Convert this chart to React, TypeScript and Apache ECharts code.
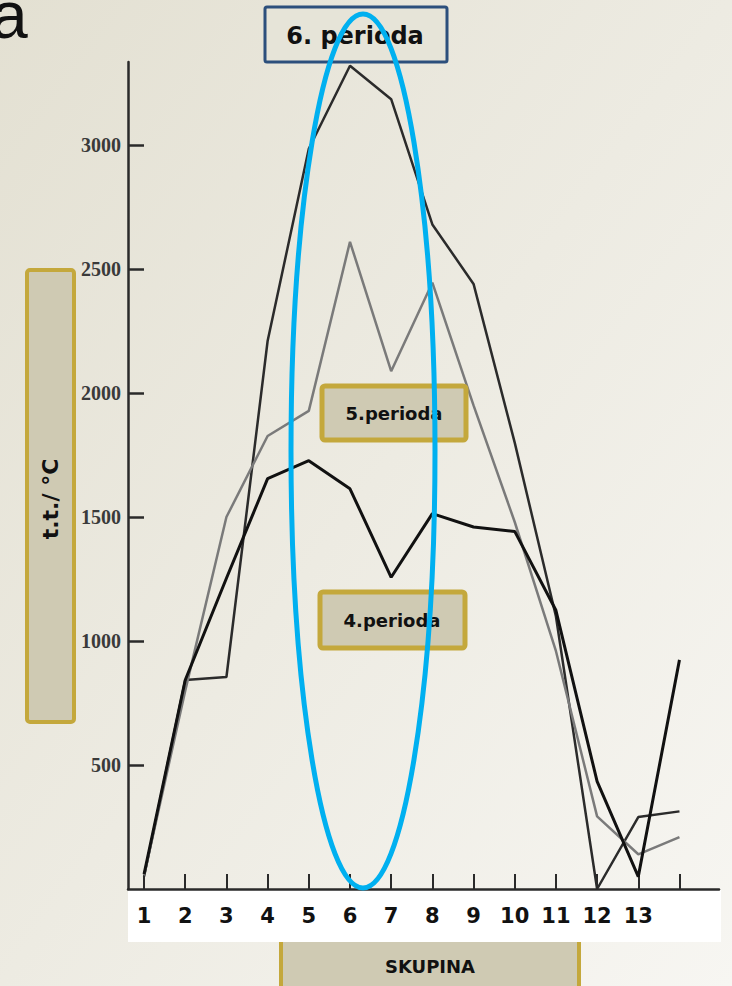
import React, { useEffect, useRef } from "react";
import * as echarts from "echarts";

// Group positions along the x axis (one per element column in the plot)
const groupPositions = [1, 2, 3, 4, 5, 6, 7, 8, 9, 10, 11, 12, 13, 14];
// Tick labels written under the axis
const groupLabels = ["1", "2", "3", "4", "5", "6", "7", "8", "9", "10", "11", "12", "13"];
// Melting points (t.t. / °C)
const period4 = [60, 843, 1253, 1655, 1727, 1614, 1257, 1514, 1460, 1442, 1124, 434, 50, 924];
const period5 = [55, 800, 1500, 1827, 1928, 2610, 2088, 2445, 1950, 1480, 960, 293, 140, 209];
const period6 = [50, 843, 855, 2210, 2985, 3320, 3185, 2680, 2440, 1800, 1100, 0, 290, 313];
// Value-axis ticks
const yTickValues = [500, 1000, 1500, 2000, 2500, 3000];
const seriesNames = ["4.perioda", "5.perioda", "6. perioda"];
const yAxisTitle = "t.t./ °C";
const xAxisTitle = "SKUPINA";

const boxFont = '"DejaVu Sans", "Noto Sans", sans-serif';

export default function App() {
  const ref = useRef<HTMLDivElement>(null);

  useEffect(() => {
    if (!ref.current) return;
    const chart = echarts.init(ref.current, undefined, { renderer: "svg" });
    const toPairs = (vals: number[]) => groupPositions.map((x, i) => [x, vals[i]]);
    const gold = "#c4a83c";
    const boxFill = "#cfcab3";

    chart.setOption({
      animation: false,
      grid: { left: 128, right: 13, top: 62, bottom: 97, containLabel: false },
      xAxis: {
        type: "value",
        min: 0.61,
        max: 14.96,
        axisLine: { show: true, lineStyle: { color: "#2a2a2a", width: 2.5 } },
        axisTick: {
          show: true,
          inside: true,
          length: 15,
          customValues: groupPositions,
          lineStyle: { color: "#2a2a2a", width: 2 },
        },
        axisLabel: {
          show: true,
          customValues: groupPositions.slice(0, groupLabels.length),
          formatter: (v: number) => groupLabels[Math.round(v) - 1] ?? "",
          margin: 16,
          fontSize: 21,
          fontWeight: "bold",
          fontFamily: boxFont,
          color: "#111",
        },
        splitLine: { show: false },
      },
      yAxis: {
        type: "value",
        min: 0,
        max: 3335,
        axisLine: { show: true, lineStyle: { color: "#2a2a2a", width: 2.5 } },
        axisTick: {
          show: true,
          inside: true,
          length: 16,
          customValues: yTickValues,
          lineStyle: { color: "#2a2a2a", width: 2.5 },
        },
        axisLabel: {
          show: true,
          customValues: yTickValues,
          formatter: (v: number) => String(v),
          margin: 7,
          fontSize: 20,
          fontWeight: "bold",
          fontFamily: '"Liberation Serif", "DejaVu Serif", serif',
          color: "#3a3a3a",
        },
        splitLine: { show: false },
      },
      series: [
        {
          name: seriesNames[2],
          type: "line",
          data: toPairs(period6),
          showSymbol: false,
          lineStyle: { color: "#2b2b2b", width: 2.5 },
          z: 2,
        },
        {
          name: seriesNames[1],
          type: "line",
          data: toPairs(period5),
          showSymbol: false,
          lineStyle: { color: "#7a7a7a", width: 2.5 },
          z: 3,
        },
        {
          name: seriesNames[0],
          type: "line",
          data: toPairs(period4),
          showSymbol: false,
          lineStyle: { color: "#111111", width: 3 },
          z: 4,
        },
      ],
      graphic: [
        {
          type: "rect",
          z: -100,
          silent: true,
          shape: { x: 0, y: 0, width: 732, height: 986 },
          style: {
            fill: new echarts.graphic.LinearGradient(0, 0, 1, 1, [
              { offset: 0, color: "#e3e0d2" },
              { offset: 1, color: "#f7f6f2" },
            ]),
          },
        },
        {
          type: "text",
          z: 50,
          x: -9,
          y: 15,
          style: {
            text: "a",
            fontSize: 66,
            fontFamily: '"Liberation Sans", Arial, sans-serif',
            fill: "#111",
            verticalAlign: "middle",
          },
        },
        // y axis title box
        {
          type: "rect",
          z: 50,
          shape: { x: 27, y: 270, width: 47, height: 452, r: 3 },
          style: { fill: boxFill, stroke: gold, lineWidth: 4 },
        },
        {
          type: "text",
          z: 51,
          x: 50,
          y: 499,
          rotation: Math.PI / 2,
          style: {
            text: yAxisTitle,
            fontSize: 22,
            fontWeight: "bold",
            fontFamily: boxFont,
            fill: "#111",
            align: "center",
            verticalAlign: "middle",
          },
        },
        // x axis title box (top hidden by the white label band)
        {
          type: "rect",
          z: -60,
          shape: { x: 281, y: 925, width: 298, height: 80, r: 3 },
          style: { fill: boxFill, stroke: gold, lineWidth: 4 },
        },
        {
          type: "text",
          z: 51,
          x: 430,
          y: 966,
          style: {
            text: xAxisTitle,
            fontSize: 18,
            fontWeight: "bold",
            fontFamily: boxFont,
            fill: "#111",
            align: "center",
            verticalAlign: "middle",
          },
        },
        // white band behind tick labels
        {
          type: "rect",
          z: -50,
          shape: { x: 128, y: 890, width: 593, height: 52 },
          style: { fill: "#ffffff" },
        },
        // 5.perioda
        {
          type: "rect",
          z: 50,
          shape: { x: 322, y: 386, width: 144, height: 54, r: 3 },
          style: { fill: boxFill, stroke: gold, lineWidth: 5 },
        },
        {
          type: "text",
          z: 51,
          x: 394,
          y: 413,
          style: {
            text: seriesNames[1],
            fontSize: 18,
            fontWeight: "bold",
            fontFamily: boxFont,
            fill: "#111",
            align: "center",
            verticalAlign: "middle",
          },
        },
        // 4.perioda
        {
          type: "rect",
          z: 50,
          shape: { x: 320, y: 592, width: 145, height: 56, r: 3 },
          style: { fill: boxFill, stroke: gold, lineWidth: 5 },
        },
        {
          type: "text",
          z: 51,
          x: 392,
          y: 620,
          style: {
            text: seriesNames[0],
            fontSize: 18,
            fontWeight: "bold",
            fontFamily: boxFont,
            fill: "#111",
            align: "center",
            verticalAlign: "middle",
          },
        },
        // 6. perioda
        {
          type: "rect",
          z: 50,
          shape: { x: 265, y: 7, width: 182, height: 55, r: 2 },
          style: { fill: "#e6e4d8", stroke: "#2c4f7c", lineWidth: 3 },
        },
        {
          type: "text",
          z: 51,
          x: 355,
          y: 36,
          style: {
            text: seriesNames[2],
            fontSize: 24,
            fontWeight: "bold",
            fontFamily: boxFont,
            fill: "#111",
            align: "center",
            verticalAlign: "middle",
          },
        },
        // blue highlight ellipse
        {
          type: "ellipse",
          z: 100,
          shape: { cx: 363, cy: 451, rx: 72, ry: 437 },
          style: { fill: "none", stroke: "#00b0f0", lineWidth: 5 },
        },
      ],
    });

    return () => chart.dispose();
  }, []);

  return (
    <div
      ref={ref}
      style={{ position: "absolute", left: 0, top: 0, width: 732, height: 986 }}
    />
  );
}
